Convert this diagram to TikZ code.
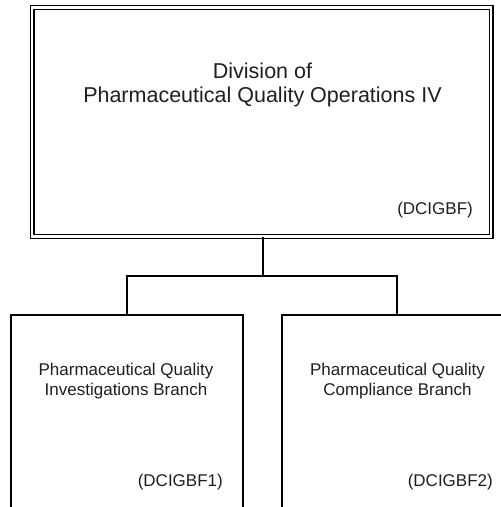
\documentclass[tikz,border=0pt]{standalone}
\usepackage{fontspec}
\setmainfont{Liberation Sans}
\begin{document}
\begin{tikzpicture}[x=1pt,y=-1pt,
  topbox/.style={draw=black, double=white, line width=1.4pt, double distance=2.4pt, inner sep=0pt, minimum width=459pt, minimum height=229pt},
  subbox/.style={draw=black, line width=1.6pt, inner sep=0pt, minimum height=225pt},
  lbl/.style={inner sep=0pt, text=black!88},
  big/.style={font=\fontsize{21.5}{24}\selectfont},
  small/.style={font=\fontsize{17}{20}\selectfont},
  conn/.style={draw=black, line width=1.6pt}]
\useasboundingbox (0,0) rectangle (501,507);
\clip (0,0) rectangle (501,507);
\fill[white] (0,0) rectangle (501,507);
% boxes
\node[topbox] (top) at (261.6,122) {};
\node[subbox, minimum width=232pt] (left) at (127,427.5) {};
\node[subbox, minimum width=230pt] (right) at (397,427.5) {};
% texts
\node[lbl, big, anchor=base] (t1) at (262.5,78) {Division of};
\node[lbl, big, anchor=base] (t2) at (262.5,102) {Pharmaceutical Quality Operations IV};
\node[lbl, small, anchor=base east] (tc) at (473,214) {(DCIGBF)};
\node[lbl, small, anchor=base] (l1) at (126,375) {Pharmaceutical Quality};
\node[lbl, small, anchor=base] (l2) at (126,395) {Investigations Branch};
\node[lbl, small, anchor=base east] (lc) at (223,486) {(DCIGBF1)};
\node[lbl, small, anchor=base] (r1) at (397.5,375) {Pharmaceutical Quality};
\node[lbl, small, anchor=base] (r2) at (397.5,395) {Compliance Branch};
\node[lbl, small, anchor=base east] (rc) at (493,486) {(DCIGBF2)};
% connectors
\coordinate (j) at (263,276);
\draw[conn] (top.south -| j) -- (j);
\draw[conn] (left.north) |- (j) -| (right.north);
\end{tikzpicture}
\end{document}
